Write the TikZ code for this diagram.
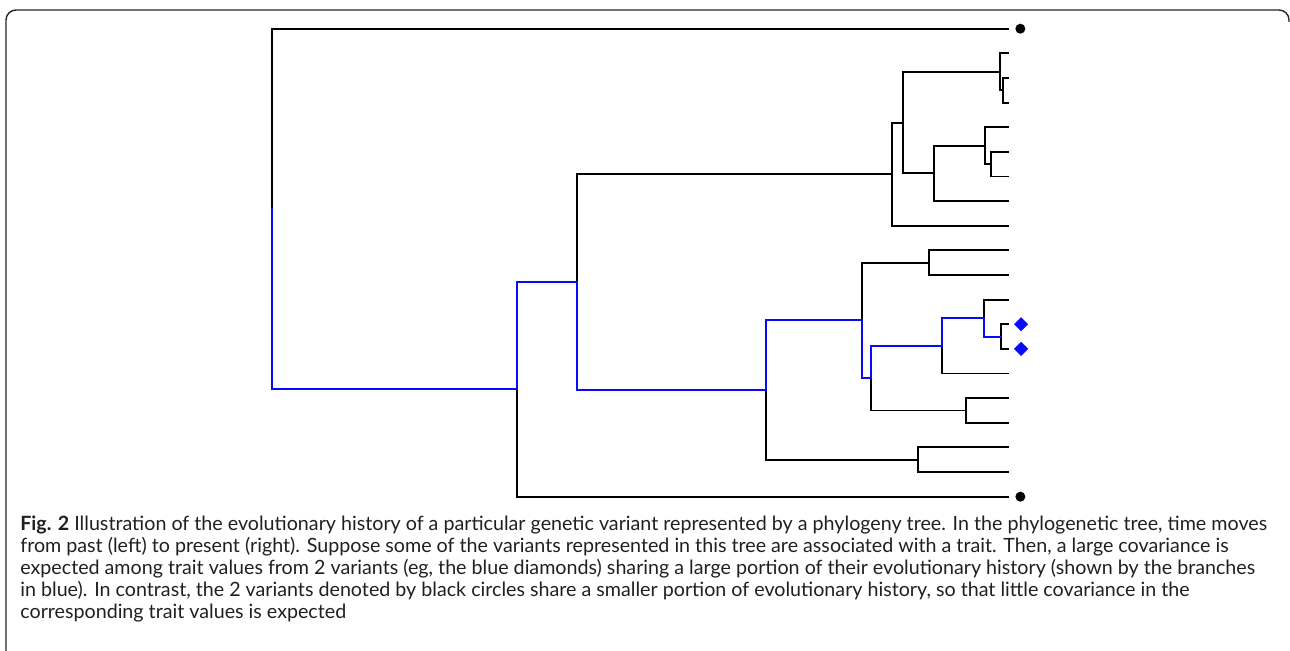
\documentclass[tikz,border=0pt]{standalone}
\usepackage{fontspec}
\setmainfont{Lato}
\usetikzlibrary{positioning,shapes.geometric}
\definecolor{histblue}{RGB}{10,10,250}
\definecolor{captext}{RGB}{35,31,32}

\begin{document}
\begin{tikzpicture}[x=0.02cm,y=-0.02cm,
    branch/.style={line width=1.1pt,line cap=rect},
    shared/.style={branch,histblue},
    tipdot/.style={circle,fill=black,inner sep=0pt,minimum size=0.2cm},
    tipdiam/.style={diamond,fill=histblue,inner sep=0pt,minimum size=0.29cm},
    caption/.style={anchor=north west,inner sep=0pt,align=left,text=captext,
        font=\fontsize{11.2}{12.4}\selectfont}]
    \useasboundingbox (0,0) rectangle (1290,651);
    % frame
    \draw[line width=0.8pt,black!85,rounded corners=0.2cm] (6,651) -- (6,10) -- (1289,10) -- (1289,22);
    % tips
    \foreach \i in {1,...,20}
        \coordinate (L\i) at (1008,{28.7+(\i-1)*24.63});
    % inner nodes
    \coordinate (N34) at (1002.7,90.3);
    \coordinate (N24) at (1000,71.8);
    \coordinate (N67) at (991,164.2);
    \coordinate (N57) at (985,145.7);
    \coordinate (N58) at (934,173.4);
    \coordinate (N28) at (902.7,122.6);
    \coordinate (N29) at (891.7,174.2);
    \coordinate (N1011) at (929,262.7);
    \coordinate (N1314) at (1000.7,336.6);
    \coordinate (N1214) at (984.3,318.1);
    \coordinate (N1215) at (942.3,345.8);
    \coordinate (N1617) at (965.7,410.5);
    \coordinate (N1217) at (871,378.2);
    \coordinate (N1017) at (861.7,320.4);
    \coordinate (N1819) at (917.7,459.7);
    \coordinate (N1019) at (766,390.1);
    \coordinate (N219) at (576.7,282.1);
    \coordinate (N220) at (516.7,389.4);
    \coordinate (R) at (271.7,209.1);
    % branches
    \draw[branch] (R) |- (L1)
        (N220) |- (L20)
        (N219) |- (N29)
        (N29) |- (N28) (N29) |- (L9)
        (N28) |- (N24) (N28) |- (N58)
        (N24) |- (L2) (N24) |- (N34)
        (N34) |- (L3) (N34) |- (L4)
        (N58) |- (N57) (N58) |- (L8)
        (N57) |- (L5) (N57) |- (N67)
        (N67) |- (L6) (N67) |- (L7)
        (N1019) |- (N1819)
        (N1819) |- (L18) (N1819) |- (L19)
        (N1017) |- (N1011)
        (N1011) |- (L10) (N1011) |- (L11)
        (N1217) |- (N1617)
        (N1617) |- (L16) (N1617) |- (L17)
        (N1215) |- (L15)
        (N1214) |- (L12)
        (N1314) |- (L13) (N1314) |- (L14);
    \draw[shared] (R) |- (N220) |- (N219) |- (N1019) |- (N1017) |- (N1217)
        |- (N1215) |- (N1214) |- (N1314);
    % marks
    \node[tipdot, right=0.14cm of L1] (D1) {};
    \node[tipdot, right=0.14cm of L20] (D20) {};
    \node[tipdiam, right=0.11cm of L13] (V13) {};
    \node[tipdiam, right=0.11cm of L14] (V14) {};
    % caption
    \node[caption] (Cap) at (20,516) {\textbf{Fig. 2} Illustration of the evolutionary history of a particular genetic variant represented by a phylogeny tree. In the phylogenetic tree, time moves\\
        from past (left) to present (right). Suppose some of the variants represented in this tree are associated with a trait. Then, a large covariance is\\
        expected among trait values from 2 variants (eg, the blue diamonds) sharing a large portion of their evolutionary history (shown by the branches\\
        in blue). In contrast, the 2 variants denoted by black circles share a smaller portion of evolutionary history, so that little covariance in the\\
        corresponding trait values is expected};
\end{tikzpicture}
\end{document}
